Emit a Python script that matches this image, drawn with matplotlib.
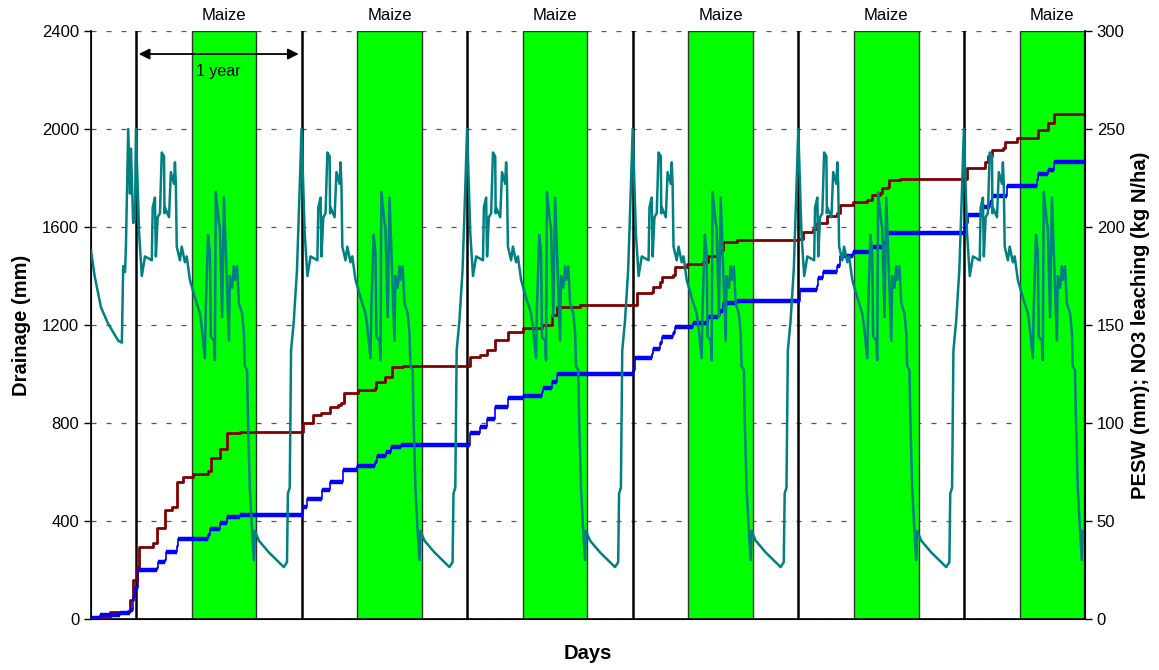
import numpy as np
import matplotlib
matplotlib.use('Agg')
import matplotlib.pyplot as plt

plt.rcParams['font.family'] = ['Liberation Sans', 'DejaVu Sans']

# Calendário (dias desde o início da simulação)
total_days = 2191
year_starts = [99, 464, 829, 1194, 1559, 1924]
maize_offset = [123, 265]  # início e fim do milho, em dias após o início do ano

# PESW (mm) antes do primeiro ano
pesw_pre_days = [0, 8, 22, 37, 60, 68, 71, 75, 77, 82, 86, 88, 93, 97]
pesw_pre = [188, 175, 159, 151, 142, 141, 180, 177, 190, 250, 217, 240, 202, 204]

# PESW (mm) num ano típico (dias após o início do ano)
pesw_cycle_days = [0, 7, 13, 20, 35, 37, 42, 44, 48, 53, 57, 62, 63, 64, 73, 77, 84, 86,
                   88, 90, 97, 101, 108, 112, 119, 130, 141, 145, 152, 154, 159, 163, 165,
                   172, 174, 176, 183, 185, 190, 194, 198, 205, 207, 212, 216, 218, 223,
                   227, 234, 238, 240, 245, 247, 251, 256, 260, 262, 271, 293, 315, 326,
                   333, 335, 339, 342, 348, 355, 361]
pesw_cycle = [250, 197, 175, 185, 183, 210, 215, 185, 205, 207, 238, 236, 207, 210, 205,
              228, 222, 233, 222, 190, 183, 190, 182, 185, 173, 164, 156, 149, 133, 159,
              196, 187, 144, 142, 132, 218, 202, 200, 154, 215, 188, 142, 175, 169, 180,
              173, 180, 161, 156, 146, 129, 127, 102, 67, 45, 30, 45, 40, 34, 29, 26.5,
              29, 64, 67, 137, 152, 178, 220]

# Drenagem acumulada (mm)
drain_days = [0, 2, 42, 82, 86, 93, 101, 106, 137, 145, 163, 179, 190, 203, 225, 258, 265,
              284, 300, 328, 467, 489, 507, 527, 544, 551, 558, 588, 626, 628, 648, 663,
              688, 835, 857, 873, 890, 919, 952, 994, 1016, 1027, 1078, 1204, 1237, 1239,
              1254, 1259, 1283, 1287, 1314, 1349, 1360, 1382, 1386, 1393, 1424, 1558, 1569,
              1591, 1600, 1622, 1644, 1651, 1680, 1710, 1721, 1739, 1743, 1757, 1759, 1783,
              1931, 1971, 1977, 1986, 2010, 2015, 2041, 2087, 2109, 2123, 2191]
drain = [0, 4, 29, 33, 78, 159, 212, 294, 310, 371, 445, 457, 559, 580, 592, 604, 657,
         694, 759, 763, 800, 833, 841, 865, 873, 882, 922, 935, 943, 967, 988, 1029,
         1033, 1069, 1078, 1098, 1139, 1171, 1188, 1200, 1241, 1273, 1282, 1331, 1335,
         1355, 1376, 1396, 1404, 1437, 1449, 1457, 1482, 1490, 1506, 1539, 1547, 1551,
         1580, 1592, 1616, 1645, 1657, 1690, 1702, 1710, 1731, 1739, 1759, 1763, 1792,
         1796, 1841, 1865, 1890, 1914, 1922, 1947, 1963, 1996, 2024, 2061, 2061]

# Lixiviação de NO3 acumulada (kg N/ha)
no3_days = [0, 2, 20, 64, 86, 93, 97, 104, 145, 148, 163, 165, 190, 192, 258, 262, 284,
            300, 328, 467, 476, 509, 527, 555, 586, 626, 630, 650, 661, 683, 835, 857,
            873, 890, 919, 952, 994, 996, 1016, 1027, 1195, 1199, 1237, 1239, 1254, 1259,
            1283, 1287, 1327, 1360, 1382, 1386, 1393, 1424, 1563, 1600, 1602, 1613, 1644,
            1651, 1680, 1721, 1745, 1754, 1926, 1933, 1966, 1982, 1986, 2019, 2085, 2087,
            2109, 2123, 2191]
no3 = [0, 0.5, 2, 3, 4.6, 11, 16, 25, 26, 29, 30, 34, 37, 41, 43, 46, 49, 52, 53, 57, 61,
       66, 70, 76, 78, 80, 83, 85, 88, 89, 95, 98, 102, 108, 113, 114, 116, 118, 121, 125,
       127, 133, 135, 138, 141, 144, 146, 149, 151, 154, 155, 157, 161, 162, 168, 170, 174,
       177, 180, 185, 187, 190, 192, 197, 202, 206, 210, 213, 216, 221, 224, 227, 229, 233,
       233]

# Série completa de PESW
pesw_days = list(pesw_pre_days)
pesw = list(pesw_pre)
for ys in year_starts:
    for d, v in zip(pesw_cycle_days, pesw_cycle):
        if ys + d <= total_days:
            pesw_days.append(ys + d)
            pesw.append(v)

fig = plt.figure(figsize=(11.59, 6.70), dpi=100)
ax = fig.add_axes([91/1159, 1 - 619/670, 994/1159, 588/670])
ax2 = ax.twinx()

ax.set_xlim(0, total_days)
ax.set_ylim(0, 2400)
ax2.set_ylim(0, 300)

# Grade horizontal tracejada
ax.set_axisbelow(True)
ax.set_yticks(np.arange(0, 2401, 400))
ax.grid(axis='y', color='#555555', linestyle=(0, (4, 8)), linewidth=0.9)
ax.set_xticks([])
ax2.set_yticks(np.arange(0, 301, 50))

# Faixas do milho e linhas de ano
for ys in year_starts:
    x0 = ys + maize_offset[0]
    x1 = min(ys + maize_offset[1], total_days)
    ax.axvspan(x0, x1, facecolor='#00ff00', edgecolor='#333333', linewidth=1.0, zorder=1)
    ax.axvline(ys, color='black', linewidth=1.8, zorder=2)
    ax.text((x0 + x1) / 2, 2462, 'Maize', ha='center', va='center', fontsize=12,
            clip_on=False)

# Séries
ax.plot(drain_days, drain, drawstyle='steps-post', color='#800000', linewidth=2, zorder=3)
ax2.plot(no3_days, no3, drawstyle='steps-post', color='#0000ff', linewidth=1.2, zorder=3)
ax2.hlines(no3[:-1], no3_days[:-1], no3_days[1:], color='#0000ff', linewidth=3.2, zorder=3)
ax2.plot(pesw_days, pesw, color='#008080', linewidth=1.8, zorder=4)

# Seta de 1 ano
ax.annotate('', xy=(year_starts[0], 2306), xytext=(year_starts[1], 2306),
            arrowprops=dict(arrowstyle='<|-|>', color='black', lw=1.3, mutation_scale=16),
            zorder=5)
ax.text((year_starts[0] + year_starts[1]) / 2, 2233, '1 year', ha='center', va='center',
        fontsize=11.5, zorder=5)

# Eixos
ax.spines['top'].set_visible(False)
ax2.spines['top'].set_visible(False)
for a in (ax, ax2):
    a.tick_params(axis='y', direction='out', length=5, width=1, labelsize=12)
ax.spines['left'].set_linewidth(1.2)
ax.spines['bottom'].set_linewidth(1.2)
ax2.spines['right'].set_linewidth(1.2)

ax.set_ylabel('Drainage (mm)', fontsize=14.5, fontweight='bold')
ax.yaxis.set_label_coords(-0.060, 0.5)
ax2.set_ylabel('PESW (mm); NO3 leaching (kg N/ha)', fontsize=14.5, fontweight='bold')
ax2.yaxis.set_label_coords(1.046, 0.5)
ax.set_xlabel('Days', fontsize=14.5, fontweight='bold', labelpad=18)

fig.savefig('out.png', dpi=100)
